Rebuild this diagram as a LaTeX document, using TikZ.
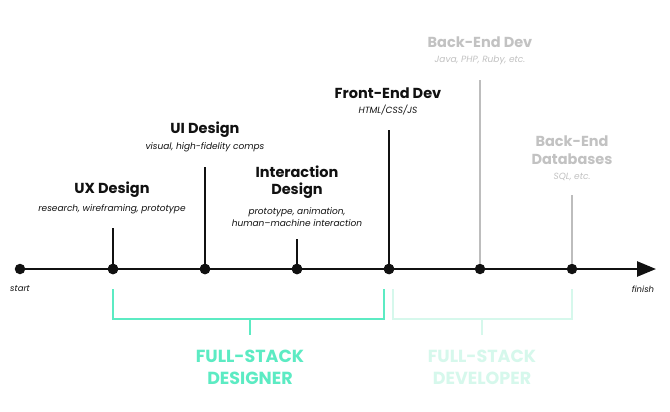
\documentclass[tikz,border=0pt]{standalone}
\usepackage{fontspec}
\setmainfont{Poppins}
\usetikzlibrary{arrows.meta}
\definecolor{ink}{HTML}{111111}
\definecolor{greyline}{HTML}{BDBDBD}
\definecolor{greytext}{HTML}{C2C2C2}
\definecolor{mint}{HTML}{5CEBC3}
\definecolor{palemint}{HTML}{D6F8EC}
\begin{document}
\begin{tikzpicture}[x=1pt,y=-1pt,
  dot/.style={circle,fill=ink,inner sep=0pt,minimum size=10.5pt},
  stem/.style={line width=2pt,draw=ink},
  greystem/.style={line width=2pt,draw=greyline},
  ttl/.style={font=\fontsize{14.5}{17.5}\selectfont\bfseries,text=ink,align=center,inner sep=0pt},
  sub/.style={font=\fontsize{9}{12}\selectfont\itshape,text=ink,align=center,inner sep=0pt},
  gttl/.style={ttl,text=greytext},
  gsub/.style={sub,text=greytext},
  endlbl/.style={font=\fontsize{8.5}{10}\selectfont\itshape,text=ink,inner sep=0pt},
  bracket/.style={line width=2pt,draw=mint},
  palebracket/.style={line width=2pt,draw=palemint},
  role/.style={font=\fontsize{17.5}{22}\selectfont\bfseries,align=center,inner sep=0pt}]
\useasboundingbox[fill=white] (0,0) rectangle (670,412);
% axis
\coordinate (tip) at (656,269);
\node[dot] (d0) at (20,269) {};
\node[dot] (d1) at (113,269) {};
\node[dot] (d2) at (205,269) {};
\node[dot] (d3) at (297,269) {};
\node[dot] (d4) at (389,269) {};
\node[dot] (d5) at (480,269) {};
\node[dot] (d6) at (572,269) {};
\draw[line width=2.5pt,draw=ink,-{Triangle[length=19pt,width=15pt]}] (d0.center) -- (tip);
% stems
\coordinate (t1) at (113,228);
\coordinate (t2) at (205,167);
\coordinate (t3) at (297,239);
\coordinate (t4) at (389,130);
\coordinate (t5) at (480,80);
\coordinate (t6) at (572,195);
\draw[stem] (d1.center) -- (t1);
\draw[stem] (d2.center) -- (t2);
\draw[stem] (d3.center) -- (t3);
\draw[stem] (d4.center) -- (t4);
\draw[greystem] (d5) -- (t5);
\draw[greystem] (d6) -- (t6);
\node[dot] at (d1) {};
\node[dot] at (d2) {};
\node[dot] at (d3) {};
\node[dot] at (d4) {};
% labels
\node[ttl] (ux) at (112,190) {UX Design};
\node[sub] (uxs) at (112,209) {research, wireframing, prototype};
\node[ttl] (ui) at (205,130) {UI Design};
\node[sub] (uis) at (205,147) {visual, high-fidelity comps};
\node[ttl] (ixd) at (297,182) {Interaction\\Design};
\node[sub] (ixds) at (297,217) {prototype, animation,\\human–machine interaction};
\node[ttl] (fe) at (388,93) {Front-End Dev};
\node[sub] (fes) at (388,110) {HTML/CSS/JS};
\node[gttl] (be) at (480,42) {Back-End Dev};
\node[gsub] (bes) at (480,60) {Java, PHP, Ruby, etc.};
\node[gttl] (db) at (572,150) {Back-End\\Databases};
\node[gsub] (dbs) at (572,177) {SQL, etc.};
\node[endlbl] (st) at (20,289) {start};
\node[endlbl] (fin) at (643,289) {finish};
% brackets
\coordinate (a1) at (113,289);
\coordinate (a2) at (384,289);
\coordinate (am) at (250,319);
\coordinate (ab) at (250,335);
\draw[bracket] (a1) -- (113,319) -- (384,319) -- (a2);
\draw[bracket] (am) -- (ab);
\node[role,text=mint] (fsd) at (250,367) {FULL-STACK\\DESIGNER};
\coordinate (b1) at (393,289);
\coordinate (b2) at (572,289);
\coordinate (bm) at (482,319);
\coordinate (bb) at (482,335);
\draw[palebracket] (b1) -- (393,319) -- (572,319) -- (b2);
\draw[palebracket] (bm) -- (bb);
\node[role,text=palemint] (fsv) at (482,367) {FULL-STACK\\DEVELOPER};
\end{tikzpicture}
\end{document}
